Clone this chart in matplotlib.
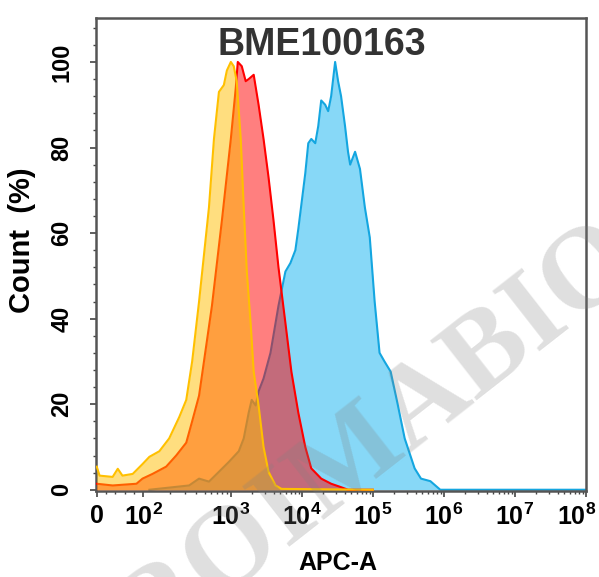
import numpy as np
import matplotlib
matplotlib.use('Agg')
import matplotlib.pyplot as plt
import matplotlib.transforms as mtransforms
from matplotlib.ticker import FixedLocator, MultipleLocator

plt.rcParams['font.family'] = ['Liberation Sans', 'DejaVu Sans']
plt.rcParams['mathtext.fontset'] = 'custom'
plt.rcParams['mathtext.rm'] = 'Liberation Sans:bold'
plt.rcParams['mathtext.bf'] = 'Liberation Sans:bold'

# APC-A intensity vs normalised count (%)
yellow_x = [0, 6, 34, 45, 55, 77, 98, 117, 152, 197,
            257, 309, 361, 433, 562, 641, 731, 832, 901, 1000,
            1100, 1210, 1380, 1520, 1680, 1900, 2100, 2460, 2890, 3400,
            4260, 5170, 1e5]
yellow_y = [5.4, 3.3, 3.0, 4.9, 3.3, 3.7, 6.0, 7.7, 9.0, 12,
            17, 21, 30, 44, 66, 82, 93, 94.6, 98, 100,
            99, 95.5, 82, 66, 51, 39, 27.6, 19.7, 10, 4.2,
            1.0, 0.2, 0]

red_x = [0, 34, 85, 98, 127, 182, 237, 309, 361, 433,
         608, 791, 1000, 1175, 1253, 1426, 1620, 1785, 2100, 2460,
         2890, 3400, 3990, 4690, 5870, 7130, 8930, 11190, 13590, 18750,
         25880, 35700, 44700, 1e5]
red_y = [1.4, 1.0, 1.4, 2.6, 3.7, 5.4, 8, 11, 16, 22,
         43, 63, 82, 94, 100, 99, 95.5, 96, 97, 90,
         82, 73, 63, 52, 39, 27.6, 18, 10, 5, 2.6,
         1.4, 0.6, 0, 0]

blue_x = [117, 333, 433, 562, 731, 949, 1294, 1520, 1785, 1967,
          2240, 2460, 2890, 3620, 4690, 5870, 6910, 8110, 8930, 11190,
          12330, 13590, 15460, 17030, 18750, 21330, 23500, 25880, 29440, 32430,
          35700, 40620, 44740, 47980, 56240, 65910, 77260, 90560, 106100, 124400,
          145800, 178400, 223800, 281000, 388000, 477000, 647000, 891000, 1e8]
blue_y = [0, 1, 2.6, 1.9, 4.2, 6.5, 9, 12, 18, 21,
          19.7, 23, 26, 32, 43, 51, 53, 56, 61, 74,
          81, 82, 81, 85, 91, 90, 88.5, 92, 100, 95.5,
          92, 85, 79, 76, 79, 75, 66, 59, 44, 32,
          30, 27.6, 20, 12, 5, 2.6, 2, 0, 0]

xticks = [0, 1e2, 1e3, 1e4, 1e5, 1e6, 1e7, 1e8]
xticklabels = ['0', r'$\mathbf{10^{2}}$', r'$\mathbf{10^{3}}$', r'$\mathbf{10^{4}}$',
               r'$\mathbf{10^{5}}$', r'$\mathbf{10^{6}}$', r'$\mathbf{10^{7}}$', r'$\mathbf{10^{8}}$']
yticks = [0, 20, 40, 60, 80, 100]


# biexponential-like display axis: linear up to 100, then log decades
def fwd(x):
    x = np.asarray(x, float)
    lx = np.log10(np.maximum(x, 100))
    return np.where(x <= 100, 0.47 * x,
                    np.where(lx <= 3, 47 + 88 * (lx - 2), 135 + 71.5 * (lx - 3)))


def inv(p):
    p = np.asarray(p, float)
    q = np.clip(p, 47, 600)
    return np.where(p <= 47, p / 0.47,
                    np.where(q <= 135, 10 ** (2 + (q - 47) / 88), 10 ** (3 + (q - 135) / 71.5)))


fig = plt.figure(figsize=(5.99, 5.77), dpi=100)
ax = fig.add_axes([0.160, 0.149, 0.818, 0.820])
ax.set_xscale('function', functions=(fwd, inv))

ax.fill_between(blue_x, blue_y, 0, color='#87D8F7', lw=0, zorder=1)
ax.plot(blue_x, blue_y, color='#14A6E0', lw=1.5, zorder=2)
ax.fill_between(red_x, red_y, 0, color='#FF0000', alpha=0.5, lw=0, zorder=3)
ax.plot(red_x, red_y, color='#FF0000', lw=1.5, zorder=4)
ax.fill_between(yellow_x, yellow_y, 0, color='#FFBF00', alpha=0.5, lw=0, zorder=5)
ax.plot(yellow_x, yellow_y, color='#FFC000', lw=1.5, zorder=6)

ax.set_xlim(-2, 1e8)
ax.set_ylim(-0.3, 110.3)

ax.set_xticks(xticks)
ax.set_xticklabels(xticklabels)
minor_x = [20, 40, 60, 80] + [k * 10 ** n for n in range(2, 8) for k in range(2, 10)]
ax.xaxis.set_minor_locator(FixedLocator(minor_x))
ax.set_yticks(yticks)
ax.set_yticklabels([str(v) for v in yticks], rotation=90, va='center')
ax.yaxis.set_minor_locator(MultipleLocator(4))

ax.tick_params(axis='both', which='major', length=4, width=1.2, color='#444444')
ax.tick_params(axis='both', which='minor', length=2.5, width=1, color='#444444')
ax.tick_params(axis='x', which='major', labelsize=18, pad=5)
ax.tick_params(axis='y', which='major', labelsize=17, pad=12)
for lab in ax.get_yticklabels() + ax.get_xticklabels():
    lab.set_fontweight('bold')
# last decade label pulled inside the canvas
last = ax.get_xticklabels()[-1]
last.set_transform(last.get_transform() + mtransforms.ScaledTranslation(-9 / 100, 0, fig.dpi_scale_trans))

for s in ax.spines.values():
    s.set_color('#555555')
    s.set_linewidth(1.8)

fig.text(0.538, 0.922, 'BME100163', fontsize=27, fontweight='bold', color='#333333',
         ha='center', va='center')
fig.text(0.564, 0.024, 'APC-A', fontsize=18, fontweight='bold', ha='center', va='center')
fig.text(0.037, 0.584, 'Count  (%)', fontsize=21, fontweight='bold', rotation=90,
         ha='center', va='center')

# watermark
fig.text(0.585, 0.200, 'PROIMABIO', fontsize=84, fontweight='bold', family='Liberation Serif',
         color='#808080', alpha=0.25, rotation=38, rotation_mode='anchor',
         ha='center', va='center', zorder=10)

fig.savefig('out.png', dpi=100)
